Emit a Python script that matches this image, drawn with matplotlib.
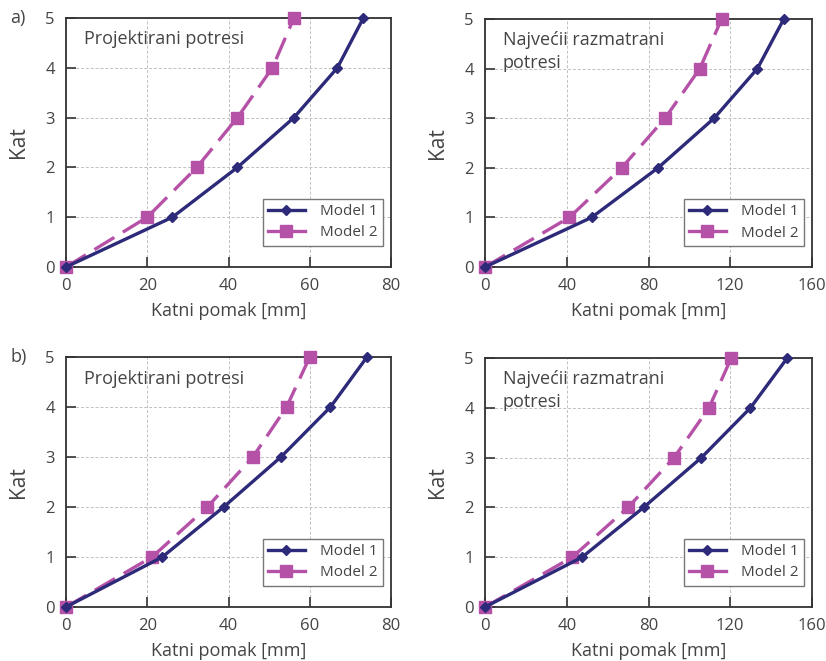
import numpy as np
import matplotlib.pyplot as plt

plt.rcParams['font.family'] = ['Open Sans', 'DejaVu Sans']

floors = [0, 1, 2, 3, 4, 5]

# a) projektirani / najveci razmatrani
a_proj_m1 = [0, 26.2, 42.2, 56.1, 66.8, 73.2]
a_proj_m2 = [0, 20.0, 32.2, 42.2, 50.8, 56.1]
a_max_m1 = [0, 52.2, 84.7, 112.1, 133.3, 146.2]
a_max_m2 = [0, 41.3, 66.9, 88.1, 105.1, 115.8]

# b)
b_proj_m1 = [0, 23.7, 38.8, 52.9, 65.1, 74.1]
b_proj_m2 = [0, 21.2, 34.8, 46.0, 54.3, 60.0]
b_max_m1 = [0, 47.5, 77.6, 105.9, 129.9, 147.9]
b_max_m2 = [0, 42.7, 70.0, 92.5, 109.6, 120.5]

c1 = '#2e2a7a'
c2 = '#b552a8'
txt = '#444444'

fig = plt.figure(figsize=(8.26, 6.61), dpi=100)
W, H = 826, 661

def add_ax(l, t, r, b):
    return fig.add_axes([l / W, 1 - b / H, (r - l) / W, (b - t) / H])

panels = [
    (add_ax(66, 18, 391, 267), a_proj_m1, a_proj_m2, 80, 20, 'Projektirani potresi'),
    (add_ax(485, 19, 812, 267), a_max_m1, a_max_m2, 160, 40, 'Najvećii razmatrani\npotresi'),
    (add_ax(66, 357, 391, 607), b_proj_m1, b_proj_m2, 80, 20, 'Projektirani potresi'),
    (add_ax(485, 358, 812, 607), b_max_m1, b_max_m2, 160, 40, 'Najvećii razmatrani\npotresi'),
]

for ax, m1, m2, xmax, step, title in panels:
    ax.plot(m1, floors, color=c1, lw=2.4, marker='D', ms=5, label='Model 1',
            zorder=4, clip_on=False)
    ax.plot(m2, floors, color=c2, lw=2.4, marker='s', ms=8, dashes=(7, 3),
            label='Model 2', zorder=3, clip_on=False)
    ax.set_xlim(0, xmax)
    ax.set_ylim(0, 5)
    ax.set_xticks(np.arange(0, xmax + 1, step))
    ax.set_yticks(floors)
    ax.grid(True, ls=(0, (3, 2)), color='#c0c0c0', lw=0.7)
    ax.set_axisbelow(True)
    for s in ax.spines.values():
        s.set_color('#333333')
        s.set_linewidth(1.3)
    ax.tick_params(direction='in', length=7, width=1.2, color='#333333',
                   labelcolor=txt, labelsize=12, pad=8)
    ax.set_xlabel('Katni pomak [mm]', fontsize=13, color=txt, labelpad=6)
    ax.set_ylabel('Kat', fontsize=15, color=txt, labelpad=12)
    ax.text(0.055, 0.95, title, transform=ax.transAxes, fontsize=13, color=txt,
            va='top', ha='left', linespacing=1.3)
    leg = ax.legend(loc='lower right', bbox_to_anchor=(0.975, 0.085), fontsize=11,
                    fancybox=False, framealpha=1, edgecolor='#777777',
                    handlelength=2.4, borderpad=0.35, labelspacing=0.4,
                    handletextpad=1.0, borderaxespad=0)
    for t in leg.get_texts():
        t.set_color(txt)
    leg.get_lines()[1].set_linestyle('-')

fig.text(10 / W, 1 - 18 / H, 'a)', fontsize=13, color=txt, va='center')
fig.text(10 / W, 1 - 357 / H, 'b)', fontsize=13, color=txt, va='center')

fig.savefig('out.png', dpi=100)
